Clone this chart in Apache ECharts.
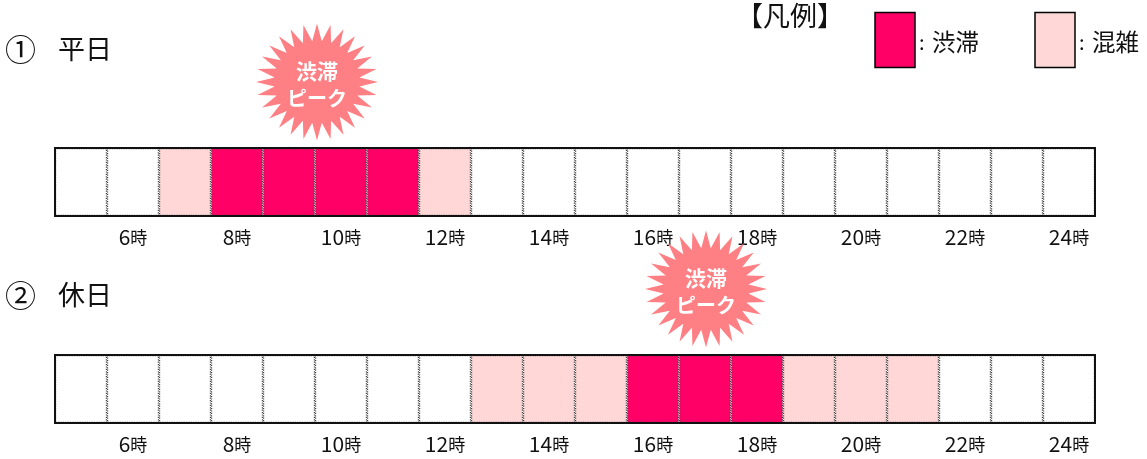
<!DOCTYPE html>
<html><head><meta charset="utf-8">
<script src="https://cdn.jsdelivr.net/npm/echarts@6/dist/echarts.min.js"></script>
<style>html,body{margin:0;padding:0;background:#fff}#c{width:1147px;height:459px}</style>
</head><body><div id="c"></div>
<script>
const hours = ['5時','6時','7時','8時','9時','10時','11時','12時','13時','14時','15時','16時','17時','18時','19時','20時','21時','22時','23時','24時'];
// 0 = 空き, 1 = 混雑, 2 = 渋滞
const weekday = [0,0,1,2,2,2,2,1,0,0,0,0,0,0,0,0,0,0,0,0];
const holiday = [0,0,0,0,0,0,0,0,1,1,1,2,2,2,1,1,1,0,0,0];
const stateColors = ['#ffffff','#ffd7d7','#ff0066'];
const FONT = '"Noto Sans CJK JP"';
const chart = echarts.init(document.getElementById('c'), null, {renderer:'canvas'});

function starPoints(cx, cy, rx, ry, spikes){
  const pts=[];
  for(let i=0;i<spikes*2;i++){
    const a=Math.PI*i/spikes - Math.PI/2, k=i%2?0.7:1;
    pts.push([cx+rx*k*Math.cos(a), cy+ry*k*Math.sin(a)]);
  }
  return pts;
}
function star(cx, cy){
  return [
    {type:'polygon', z:20, shape:{points:starPoints(cx,cy,61,58.5,28)}, style:{fill:'#ff8084'}},
    {type:'text', z:21, x:cx, y:cy-10.5, style:{text:'渋滞', fill:'#fff', font:'bold 21px '+FONT, align:'center', verticalAlign:'middle'}},
    {type:'text', z:21, x:cx, y:cy+16, style:{text:'ピーク', fill:'#fff', font:'bold 20px '+FONT, align:'center', verticalAlign:'middle'}}
  ];
}
function label(x, y, text, size){
  return {type:'text', z:21, x, y, style:{text, fill:'#111', font:size+'px '+FONT, align:'left', verticalAlign:'middle'}};
}
function swatch(x, fill){
  return {type:'rect', z:21, shape:{x, y:12.5, width:40, height:55}, style:{fill, stroke:'#000', lineWidth:1.5}};
}
const grids=[{left:55,width:1040,top:148,height:68},{left:55,width:1040,top:355,height:68}];
const rows=[weekday,holiday];
chart.setOption({
  animation:false,
  backgroundColor:'#fff',
  grid:grids.map(g=>({...g,show:true,z:10,backgroundColor:'transparent',borderColor:'#111',borderWidth:2})),
  xAxis:rows.map((_,i)=>({
    type:'category',gridIndex:i,data:hours,
    axisLine:{show:false},axisTick:{show:false},splitLine:{show:false},
    axisLabel:{
      interval:(idx)=>idx%2===1,margin:11,
      formatter:v=>{const n=v.replace('時','');return `{n|${n}}{h|時}`;},
      rich:{n:{fontFamily:FONT,fontSize:21,color:'#111'},h:{fontFamily:FONT,fontSize:17,color:'#111'}}
    }
  })),
  yAxis:rows.map((_,i)=>({type:'value',gridIndex:i,min:0,max:1,show:false})),
  series:rows.map((r,i)=>({
    type:'bar',xAxisIndex:i,yAxisIndex:i,barWidth:'100%',silent:true,
    data:r.map(s=>({value:1,itemStyle:{color:stateColors[s],borderColor:'#444',borderWidth:1.2,borderType:'dotted'}}))
  })),
  graphic:{elements:[
    label(5,49,'①',31),label(58,49,'平日',27),
    label(5,295,'②',31),label(58,295,'休日',27),
    label(736,16,'【凡例】',27),
    swatch(875,stateColors[2]),label(919,42,':',20),label(932,42,'渋滞',23.5),
    swatch(1035,stateColors[1]),label(1079,42,':',20),label(1092,42,'混雑',23.5),
    ...star(317,82),...star(706,289)
  ]}
});
</script></body></html>
